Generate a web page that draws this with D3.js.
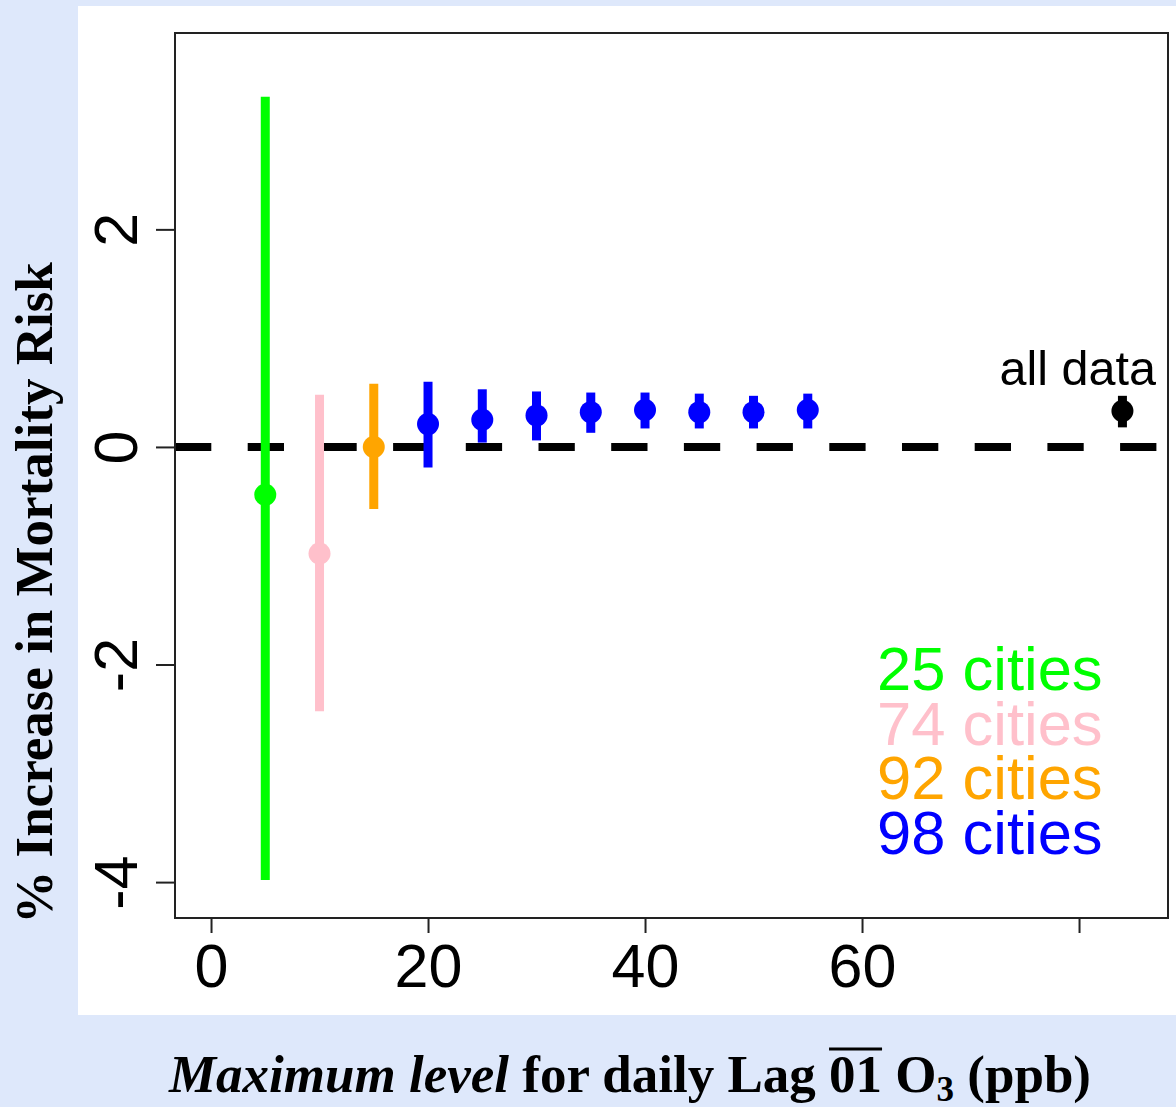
<!DOCTYPE html>
<html>
<head>
<meta charset="utf-8">
<script src="https://cdn.jsdelivr.net/npm/d3@7"></script>
<style>
  html, body { margin: 0; padding: 0; background: #dee8fb; }
  svg { display: block; }
</style>
</head>
<body>
<svg id="chart" width="1176" height="1107"></svg>
<script>
// Maximum level cutoff (ppb) for each subset; the last entry is the full data set
const maxLevels = [5, 10, 15, 20, 25, 30, 35, 40, 45, 50, 55, 84];
// % increase in mortality risk and 95% interval bounds
const estimates = [-0.44, -0.98, 0.00, 0.21, 0.25, 0.29, 0.32, 0.34, 0.32, 0.32, 0.34, 0.33];
const lowerCI   = [-3.98, -2.43, -0.57, -0.19, 0.04, 0.06, 0.13, 0.17, 0.17, 0.17, 0.17, 0.18];
const upperCI   = [ 3.22,  0.48,  0.58,  0.60, 0.53, 0.51, 0.50, 0.50, 0.49, 0.47, 0.49, 0.47];
// group each estimate belongs to (index into groupLabels; -1 = all data)
const groupIndex = [0, 1, 2, 3, 3, 3, 3, 3, 3, 3, 3, -1];
const groupLabels = ["25 cities", "74 cities", "92 cities", "98 cities"];
const groupColors = ["#00ff00", "#ffc0cb", "#ffa500", "#0000ff"];
const allDataLabel = "all data";
const xTicks = [0, 20, 40, 60, 80];
const xTickLabels = ["0", "20", "40", "60", ""];
const yTicks = [-4, -2, 0, 2];

const svg = d3.select("#chart");

// white figure panel
svg.append("rect").attr("x", 78).attr("y", 6).attr("width", 1098).attr("height", 1009).attr("fill", "#ffffff");

const plot = { left: 175, right: 1168, top: 33, bottom: 918 };
const x = d3.scaleLinear().domain([-3.32, 88.2]).range([plot.left, plot.right]);
const y = d3.scaleLinear().domain([-4.33, 3.805]).range([plot.bottom, plot.top]);

const data = maxLevels.map((m, i) => ({
  x: m, est: estimates[i], lo: lowerCI[i], hi: upperCI[i],
  color: groupIndex[i] < 0 ? "#000000" : groupColors[groupIndex[i]]
}));

// reference line at zero
svg.append("line")
  .attr("x1", plot.left).attr("x2", plot.right)
  .attr("y1", y(0)).attr("y2", y(0))
  .attr("stroke", "#000").attr("stroke-width", 8)
  .attr("stroke-dasharray", "36.3,36.4");

// confidence intervals
svg.append("g").selectAll("line").data(data).join("line")
  .attr("x1", d => x(d.x)).attr("x2", d => x(d.x))
  .attr("y1", d => y(d.lo)).attr("y2", d => y(d.hi))
  .attr("stroke", d => d.color).attr("stroke-width", 9);

// point estimates
svg.append("g").selectAll("circle").data(data).join("circle")
  .attr("cx", d => x(d.x)).attr("cy", d => y(d.est)).attr("r", 11)
  .attr("fill", d => d.color);

// plot box
svg.append("rect")
  .attr("x", plot.left).attr("y", plot.top)
  .attr("width", plot.right - plot.left).attr("height", plot.bottom - plot.top)
  .attr("fill", "none").attr("stroke", "#222").attr("stroke-width", 2);

const tickFont = "'Liberation Sans', Arial, Helvetica, sans-serif";

// x axis
const xAxis = d3.axisBottom(x).tickValues(xTicks)
  .tickFormat((d, i) => xTickLabels[i]).tickSize(15).tickPadding(0);
const gx = svg.append("g").attr("transform", `translate(0,${plot.bottom})`).call(xAxis);
gx.select(".domain").remove();
gx.selectAll(".tick line").attr("stroke", "#222").attr("stroke-width", 2);
gx.selectAll(".tick text")
  .attr("y", 69).attr("dy", null)
  .attr("font-family", tickFont).attr("font-size", 61).attr("fill", "#000");

// y axis, labels rotated parallel to the axis
const yAxis = d3.axisLeft(y).tickValues(yTicks).tickFormat(d3.format("d")).tickSize(19).tickPadding(0);
const gy = svg.append("g").attr("transform", `translate(${plot.left},0)`).call(yAxis);
gy.select(".domain").remove();
gy.selectAll(".tick line").attr("stroke", "#222").attr("stroke-width", 2);
gy.selectAll(".tick text")
  .attr("x", null).attr("dy", null)
  .attr("text-anchor", "middle")
  .attr("transform", "translate(-38,0) rotate(-90)")
  .attr("font-family", tickFont).attr("font-size", 61).attr("fill", "#000")
  .text(d => d === 0 ? "0" : (d < 0 ? "-" + Math.abs(d) : String(d)));

// "all data" annotation
svg.append("text")
  .attr("x", 1156).attr("y", 385)
  .attr("text-anchor", "end")
  .attr("font-family", tickFont).attr("font-size", 48.5).attr("fill", "#000")
  .text(allDataLabel);

// legend
svg.append("g").selectAll("text").data(groupLabels).join("text")
  .attr("x", 877).attr("y", (d, i) => 690 + i * 54.5)
  .attr("font-family", tickFont).attr("font-size", 61.5)
  .attr("fill", (d, i) => groupColors[i])
  .text(d => d);

const serif = "'Liberation Serif', 'Times New Roman', Times, serif";

// y axis title
svg.append("text")
  .attr("transform", "translate(52,593) rotate(-90)")
  .attr("text-anchor", "middle")
  .attr("font-family", serif).attr("font-weight", "bold").attr("font-size", 53)
  .attr("fill", "#000")
  .text("% Increase in Mortality Risk");

// x axis title with italic lead-in, overlined "01" and subscript 3
const xt = svg.append("text")
  .attr("x", 630).attr("y", 1092)
  .attr("text-anchor", "middle")
  .attr("font-family", serif).attr("font-weight", "bold").attr("font-size", 53)
  .attr("fill", "#000");
xt.append("tspan").attr("font-style", "italic").text("Maximum level");
xt.append("tspan").text(" for daily Lag ");
xt.append("tspan").text("01");
xt.append("tspan").text(" O");
xt.append("tspan").attr("font-size", 35).attr("dy", 9).text("3");
xt.append("tspan").attr("dy", -9).text(" (ppb)");

// overline above "01"
const node = xt.node();
const full = node.textContent;
const i0 = full.indexOf("01");
const s = node.getStartPositionOfChar(i0);
const e = node.getEndPositionOfChar(i0 + 1);
svg.append("line")
  .attr("x1", s.x).attr("x2", e.x)
  .attr("y1", 1049).attr("y2", 1049)
  .attr("stroke", "#000").attr("stroke-width", 3);
</script>
</body>
</html>
